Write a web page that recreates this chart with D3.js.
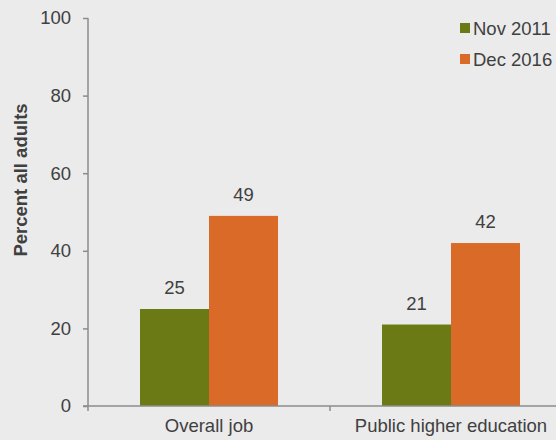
<!DOCTYPE html>
<html><head><meta charset="utf-8">
<script src="https://d3js.org/d3.v7.min.js"></script>
<style>body{margin:0;background:#ebebeb;} svg{display:block;font-family:"Liberation Sans",Arial,sans-serif;}</style>
</head><body><svg id="c" width="556" height="440"></svg>
<script>
const categories = ["Overall job", "Public higher education"];
const seriesNames = ["Nov 2011", "Dec 2016"];
const nov2011 = [25, 21];
const dec2016 = [49, 42];
const yTicks = [0, 20, 40, 60, 80, 100];
const colors = ["#6b7a14", "#d96a27"];
const values = [nov2011, dec2016];

(function () {
const svg = d3.select("#c");
const mLeft = 88, mTop = 18, mBottom = 406;
const fs = 18.5;
const y = d3.scaleLinear().domain([0, 100]).range([mBottom, mTop]);
const x = d3.scaleBand().domain(categories).range([mLeft, mLeft + 484]).paddingInner(0).paddingOuter(0);
const xs = d3.scaleBand().domain(seriesNames).range([0, x.bandwidth()]).paddingInner(0).paddingOuter(52 / 69);

const textCol = "#404040";
const axisCol = "#8c8c8c";
const g = svg.append("g");
seriesNames.forEach((s, si) => {
  categories.forEach((c, ci) => {
    const v = values[si][ci];
    const bx = x(c) + xs(s);
    g.append("rect").attr("x", bx).attr("y", y(v)).attr("width", xs.bandwidth()).attr("height", y(0) - y(v)).attr("fill", colors[si]);
    g.append("text").attr("x", bx + xs.bandwidth() / 2).attr("y", y(v) - 15).attr("text-anchor", "middle")
      .attr("font-size", fs).attr("fill", textCol).text(v);
  });
});

// y axis
const yAxis = svg.append("g").attr("transform", `translate(${mLeft},0)`)
  .call(d3.axisLeft(y).tickValues(yTicks).tickSize(5).tickPadding(12));
yAxis.select(".domain").attr("stroke", axisCol).attr("stroke-width", 1.5).attr("d", `M0,${mTop}V${mBottom}`);
yAxis.selectAll(".tick line").attr("stroke", axisCol).attr("stroke-width", 1.5);
yAxis.selectAll(".tick text").attr("font-size", fs).attr("fill", textCol).attr("font-family", "Liberation Sans, Arial, sans-serif");

// x axis
const xAxisG = svg.append("g").attr("transform", `translate(0,${mBottom})`);
xAxisG.append("line").attr("x1", mLeft - 5).attr("x2", 556).attr("y1", 0).attr("y2", 0).attr("stroke", axisCol).attr("stroke-width", 1.5);
[mLeft, mLeft + x.bandwidth(), mLeft + 2 * x.bandwidth()].forEach(t => {
  xAxisG.append("line").attr("x1", t).attr("x2", t).attr("y1", 0).attr("y2", 5).attr("stroke", axisCol).attr("stroke-width", 1.5);
});
categories.forEach(c => {
  xAxisG.append("text").attr("x", x(c) + x.bandwidth() / 2).attr("y", 26).attr("text-anchor", "middle")
    .attr("font-size", fs).attr("fill", textCol).text(c);
});

// y label
svg.append("text").attr("transform", "translate(27,180) rotate(-90)").attr("text-anchor", "middle")
  .attr("font-size", fs).attr("font-weight", "bold").attr("fill", textCol).text("Percent all adults");

// legend
seriesNames.forEach((s, i) => {
  const ly = 28 + i * 31;
  svg.append("rect").attr("x", 460).attr("y", ly - 5).attr("width", 10).attr("height", 10).attr("fill", colors[i]);
  svg.append("text").attr("x", 473).attr("y", ly + 7).attr("font-size", fs).attr("fill", textCol).text(s);
});
})();
</script></body></html>
